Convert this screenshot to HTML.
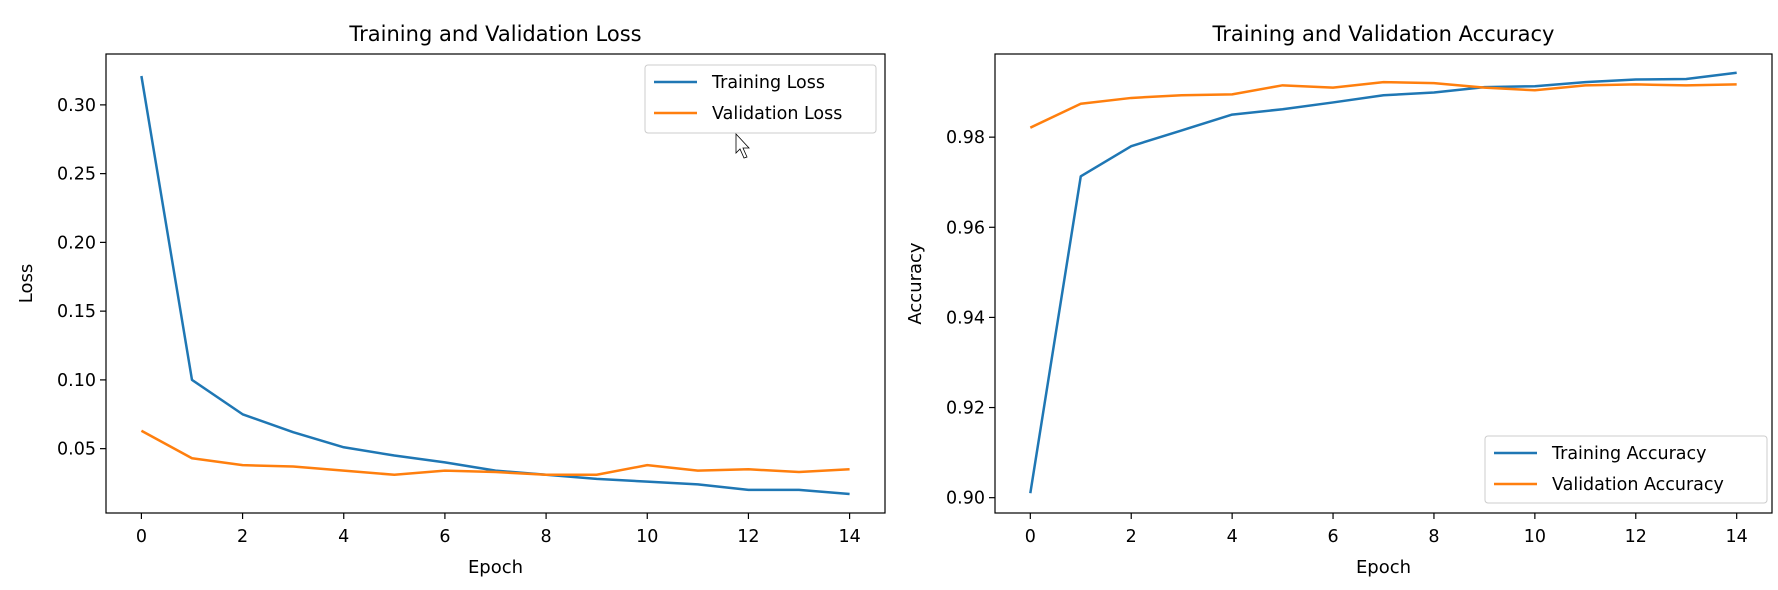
<!DOCTYPE html>
<html><head><meta charset="utf-8"><style>
html,body{margin:0;padding:0;background:#fff;}
svg{display:block;font-family:"DejaVu Sans","Liberation Sans",sans-serif;}
</style></head><body>
<svg id="chart" width="1778" height="590" xmlns="http://www.w3.org/2000/svg"></svg>
<script>
const epochs=[0,1,2,3,4,5,6,7,8,9,10,11,12,13,14];
const trainLoss=[0.321,0.100,0.075,0.062,0.051,0.045,0.040,0.034,0.031,0.028,0.026,0.024,0.020,0.020,0.017];
const valLoss=[0.063,0.043,0.038,0.037,0.034,0.031,0.034,0.033,0.031,0.031,0.038,0.034,0.035,0.033,0.035];
const trainAcc=[0.901,0.9713,0.978,0.9815,0.985,0.9862,0.9877,0.9893,0.9899,0.9911,0.9913,0.9922,0.9928,0.9929,0.9943];
const valAcc=[0.9821,0.9874,0.9887,0.9893,0.9895,0.9915,0.991,0.9922,0.992,0.991,0.9904,0.9915,0.9917,0.9915,0.9917];
const xTicks=[0,2,4,6,8,10,12,14];
const lossTicks=[0.05,0.10,0.15,0.20,0.25,0.30];
const accTicks=[0.90,0.92,0.94,0.96,0.98];

const NS="http://www.w3.org/2000/svg";
const svg=document.getElementById('chart');
function mk(tag,attrs,parent,text){const e=document.createElementNS(NS,tag);for(const k in attrs)e.setAttribute(k,attrs[k]);if(text!==undefined)e.textContent=text;(parent||svg).appendChild(e);return e;}

function panel(cfg){
  const g=mk('g',{});
  
  
  const L=cfg.left,R=cfg.right,T=54,B=513;
  const xs=v=>L+(v-(-0.7))/(15.4)*(R-L);
  const ys=v=>B-(v-cfg.ymin)/(cfg.ymax-cfg.ymin)*(B-T);
  const t=mk('text',{x:(L+R)/2,y:41,'text-anchor':'middle','font-size':'21'},g,cfg.title);
  
  
  xTicks.forEach(v=>{
    mk('line',{x1:xs(v),x2:xs(v),y1:B,y2:B+6,stroke:'#000','stroke-width':1.2},g);
    const tl=mk('text',{x:xs(v),y:B+29,'text-anchor':'middle','font-size':'17.5'},g,String(v));
    
    
  });
  cfg.ticks.forEach(v=>{
    mk('line',{x1:L-6,x2:L,y1:ys(v),y2:ys(v),stroke:'#000','stroke-width':1.2},g);
    const tl=mk('text',{x:L-10,y:ys(v)+6,'text-anchor':'end','font-size':'17.5'},g,v.toFixed(2));
    
    
  });
  const xl=mk('text',{x:(L+R)/2,y:573,'text-anchor':'middle','font-size':'18'},g,'Epoch');
  
  
  const yl=mk('text',{x:0,y:0,'text-anchor':'middle','font-size':'18',transform:`translate(${cfg.ylabelX},${(T+B)/2}) rotate(-90)`},g,cfg.ylabel);
  
  
  cfg.series.forEach(s=>{
    const p=mk('polyline',{points:epochs.map((e,i)=>xs(e)+','+ys(s.data[i])).join(' '),fill:'none',stroke:s.color,'stroke-width':2.5,'stroke-linejoin':'round'},g);
    
    
  });
  mk('rect',{x:L,y:T,width:R-L,height:B-T,fill:'none',stroke:'#000','stroke-width':1.2},g);
  const lg=mk('g',{},g);
  
  
  const lb=cfg.legend;
  mk('rect',{x:lb.x,y:lb.y,width:lb.w,height:lb.h,rx:3,fill:'#fff','fill-opacity':0.8,stroke:'#ccc','stroke-width':1},lg);
  cfg.series.forEach((s,i)=>{
    const yy=lb.y+17+i*31;
    mk('line',{x1:lb.x+9,x2:lb.x+52,y1:yy,y2:yy,stroke:s.color,'stroke-width':2.5},lg);
    const e=mk('text',{x:lb.x+67,y:yy+6,'font-size':'17.5'},lg,s.label);
    
    
  });
}
panel({name:'loss-chart',left:106,right:885,ymin:0.0032,ymax:0.337,ticks:lossTicks,title:'Training and Validation Loss',ylabel:'Loss',ylabelX:32,
  legend:{x:645,y:65,w:231,h:68},
  series:[{id:'training-loss-line',label:'Training Loss',data:trainLoss,color:'#1f77b4'},{id:'validation-loss-line',label:'Validation Loss',data:valLoss,color:'#ff7f0e'}]});
panel({name:'accuracy-chart',left:995,right:1772,ymin:0.8966,ymax:0.99845,ticks:accTicks,title:'Training and Validation Accuracy',ylabel:'Accuracy',ylabelX:921,
  legend:{x:1485,y:436,w:282,h:67},
  series:[{id:'training-accuracy-line',label:'Training Accuracy',data:trainAcc,color:'#1f77b4'},{id:'validation-accuracy-line',label:'Validation Accuracy',data:valAcc,color:'#ff7f0e'}]});
const cur=mk('polygon',{points:'736,134 736,153 740,149 744,158 747,157 743,148 749,148',fill:'#fff',stroke:'#000','stroke-width':0.8});


</script>
</body></html>
